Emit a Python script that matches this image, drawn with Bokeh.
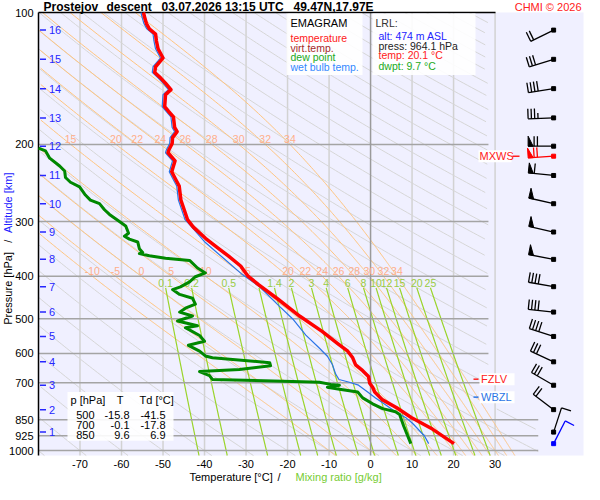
import numpy as np
from bokeh.plotting import figure
from bokeh.models import Range1d
from bokeh.embed import file_html
from bokeh.resources import INLINE
from bokeh.core.properties import value

FONT = "Liberation Sans"

# ---------------- data ----------------
station = "Prostejov"
kind = "descent"
date_str = "03.07.2026 13:15 UTC"
location = "49.47N,17.97E"
credit = "CHMI \u00a9 2026"

temp_p = [100, 102, 106, 109, 112, 116, 121, 127, 129, 133, 137, 141, 145, 150, 154, 164, 168, 173, 183, 187,
          193, 199, 206, 209, 218, 231, 239, 249, 268, 282, 297, 309, 328, 344, 360, 379, 399, 418, 452, 493,
          535, 569, 593, 614, 637, 657, 677, 702, 717, 735, 766, 798, 840, 893, 964.1]
temp_T = [-54.7, -54.5, -54.0, -53.3, -51.8, -51.6, -51.2, -50.0, -50.6, -51.8, -52.0, -50.6, -49.4, -48.1, -49.4,
          -49.6, -48.7, -47.5, -47.2, -46.6, -47.7, -47.8, -48.6, -48.8, -47.1, -47.9, -47.1, -46.1, -45.7, -44.9,
          -44.1, -42.7, -39.7, -36.9, -34.2, -31.3, -29.6, -27.0, -22.2, -17.1, -11.6, -8.0, -5.5, -4.3, -3.6,
          -1.9, -0.5, -0.2, 0.5, 1.0, 2.9, 6.3, 9.8, 14.9, 20.1]

wb_p = [100, 102, 106, 109, 112, 116, 121, 127, 129, 133, 137, 141, 145, 150, 154, 164, 168, 173, 183, 187,
        193, 199, 206, 209, 218, 231, 239, 249, 268, 282, 297,
        310, 335, 362, 397, 422, 468, 500, 545, 584, 609, 636, 669, 688, 698, 709, 735, 758, 778, 815, 844,
        866, 926, 964.1]
wb_T = [-55.3, -55.1, -54.6, -53.9, -52.4, -52.2, -51.8, -50.6, -51.2, -52.4, -52.6, -51.2, -50.0, -48.7, -50.0,
        -50.2, -49.3, -48.1, -47.8, -47.2, -48.3, -48.4, -49.2, -49.4, -47.7, -48.5, -47.7, -46.7, -46.3, -45.5,
        -44.7,
        -42.9, -39.8, -35.7, -30.8, -26.8, -22.0, -18.8, -15.6, -12.3, -10.4, -9.2, -8.4, -7.6, -5.1, -2.9,
        -0.7, 1.2, 2.9, 6.0, 8.7, 10.1, 13.0, 14.0]

dew_p = [204, 207, 215, 224, 230, 238, 244, 250, 261, 268, 273, 282, 289, 300, 307, 319, 324, 329, 334, 346,
         353, 355, 359, 364, 368, 383, 393, 401, 412, 423, 429, 440, 449, 463, 473, 483, 493, 506, 519, 524,
         546, 563, 575, 593, 608, 614, 630, 640, 653, 660, 674, 688, 695, 698, 706, 709, 717, 724, 735, 758,
         782, 802, 815, 827, 880, 964.1]
dew_T = [-80.0, -78.3, -77.3, -74.9, -73.7, -73.5, -72.3, -70.1, -68.7, -67.5, -65.3, -64.1, -62.9, -60.5, -59.0,
         -58.3, -59.3, -58.1, -56.1, -55.7, -54.9, -55.7, -53.3, -49.4, -43.6, -41.7, -39.8, -42.2, -43.6, -45.8,
         -47.7, -46.0, -42.9, -42.2, -44.6, -46.0, -42.9, -46.5, -41.7, -44.6, -41.2, -40.0, -43.9, -41.2, -39.8,
         -38.1, -24.3, -24.1, -31.6, -41.2, -38.8, -38.1, -18.8, -12.3, -9.6, -7.5, -10.4, -7.5, -3.1, -1.9,
         0.5, 2.9, 6.0, 7.0, 8.0, 9.7]

alt_km = [1, 2, 3, 4, 5, 6, 7, 8, 9, 10, 11, 12, 13, 14, 15, 16]
alt_p = [907.2, 806.3, 709.2, 627.1, 548.8, 482.8, 422.5, 366.0, 317.0, 273.2, 235.5, 201.9, 174.0, 149.2, 127.9, 109.7]
wind_dir = [18, 307, 300, 295, 288, 276, 280, 281, 283, 283, 276, 270, 268, 261, 253, 244]
wind_kt = [10, 20, 30, 30, 40, 40, 40, 50, 50, 50, 60, 70, 35, 40, 30, 20]

mxws_p, mxws_dir, mxws_kt = 212.8, 266, 70
sfc_p, sfc_dir, sfc_kt = 964.1, 27, 10
fzlv_p = 687
wbzl_p = 755

lrl_alt, lrl_press, lrl_temp, lrl_dwpt = 474, 964.1, 20.1, 9.7
tbl_p = [500, 700, 850]
tbl_T = [-15.8, -0.1, 9.6]
tbl_Td = [-41.5, -17.8, 6.9]

x_ticks = [-70, -60, -50, -40, -30, -20, -10, 0, 10, 20, 30]
p_ticks = [100, 200, 300, 400, 500, 600, 700, 850, 925, 1000]
isobars = [200, 300, 400, 500, 600, 700, 850, 925, 1000]
isotherms = [-70, -60, -50, -40, -30, -20, -10, 10, 20, 30]
theta_c = list(range(-80, 320, 10))
theta_w = [-10, -5, 0, 5, 10, 15, 20, 22, 24, 26, 28, 30, 32, 34]
mix_w = [0.1, 0.2, 0.5, 1, 1.4, 2, 3, 4, 6, 8, 10, 12, 15, 20, 25]
mix_lbl_w = [0.1, 0.2, 0.5, 1.4, 2, 3, 4, 6, 8, 10, 12, 15, 20, 25]

# ---------------- geometry ----------------
X0, X1 = -80.0, 51.3          # plot area (deg C)
P_TOP, P_BOT = 100.0, 1026.0  # plot area (hPa)
W, H = 584, 484
AL, AT, AW, AH = 38, 12, 545, 443   # plot area inside canvas (px)
LNR = np.log(P_BOT / P_TOP)
T_LIM_UP, T_LIM_LOW, P_LIM = 28.4, 40.4, 800.0


def d2x(T):
    return AL + (np.asarray(T, float) - X0) / (X1 - X0) * AW


def d2y(pp):
    return AT + np.log(np.asarray(pp, float) / P_TOP) / LNR * AH


def x2d(fx):
    return X0 + (np.asarray(fx, float) - AL) / AW * (X1 - X0)


def y2d(fy):
    return P_TOP * np.exp((np.asarray(fy, float) - AT) / AH * LNR)


def rx(xref):
    return xref - 8.0


def ry(yref):
    return AT + (yref - 16.0) * AH / 454.0


def clipT(T, pp):
    T = np.array(T, float)
    pp = np.asarray(pp, float)
    bad = ((pp < P_LIM) & (T > T_LIM_UP)) | ((pp >= P_LIM) & (T > T_LIM_LOW)) | (T < X0) \
        | (pp < P_TOP - 1e-6) | (pp > P_BOT + 1e-6)
    T[bad] = np.nan
    return T


p = figure(width=W, height=H,
           x_range=Range1d(float(x2d(0)), float(x2d(W))),
           y_range=Range1d(float(y2d(H)), float(y2d(0))),
           y_axis_type="log", output_backend="svg", toolbar_location=None,
           min_border_left=0, min_border_right=0, min_border_top=0, min_border_bottom=0,
           background_fill_color="white", border_fill_color="white", outline_line_color=None)
p.xgrid.visible = False
p.ygrid.visible = False
p.axis.visible = False


def txt(fx, fy, text, color="black", size="11px", align="left", baseline="middle", bold=False, angle=0):
    p.text(x=[float(x2d(fx))], y=[float(y2d(fy))], text=[text], text_font=value(FONT), text_font_size=size,
           text_color=color, text_align=align, text_baseline=baseline,
           text_font_style=value("bold" if bold else "normal"), angle=angle, angle_units="deg")


# plot-area background
p.quad(left=[X0], right=[X1], top=[P_TOP], bottom=[P_BOT], fill_color="#f0f0ff", line_color=None)

# ---------------- background grid ----------------
p.segment(x0=isotherms, x1=isotherms, y0=[P_BOT] * len(isotherms), y1=[P_TOP] * len(isotherms),
          line_color="#d2d2d2", line_width=1.5)

pg = np.geomspace(P_TOP, P_BOT, 220)
dry_xs, dry_ys = [], []
for th in theta_c:
    T = (th + 273.15) * (pg / 1000.0) ** 0.2857 - 273.15
    dry_xs.append(clipT(T, pg))
    dry_ys.append(pg)
p.multi_line(xs=dry_xs, ys=dry_ys, line_color="#d6d6d6", line_width=1)


def sat_vp(Tc):
    return 6.112 * np.exp(17.67 * Tc / (Tc + 243.5))


def dTdp(pp, T):
    Tc = T - 273.15
    es = sat_vp(Tc)
    r = 0.622 * es / (pp - es)
    return (287.04 * T + 2.501e6 * r) / (1005.7 + 2.501e6 ** 2 * r * 0.622 / (287.04 * T * T)) / pp


def integrate(T0, p_end, h):
    ps, Ts = [1000.0], [T0]
    pc, Tc = 1000.0, T0
    while (h < 0 and pc + h >= p_end - 1e-9) or (h > 0 and pc + h <= p_end + 1e-9):
        k1 = dTdp(pc, Tc)
        k2 = dTdp(pc + h / 2, Tc + h / 2 * k1)
        k3 = dTdp(pc + h / 2, Tc + h / 2 * k2)
        k4 = dTdp(pc + h, Tc + h * k3)
        Tc = Tc + h / 6 * (k1 + 2 * k2 + 2 * k3 + k4)
        pc = pc + h
        ps.append(pc)
        Ts.append(Tc)
    return np.array(ps), np.array(Ts)


moist_xs, moist_ys = [], []
ml_up_x, ml_up_y, ml_up_t, ml_lo_x, ml_lo_y, ml_lo_t = [], [], [], [], [], []
for tw in theta_w:
    pu, Tu = integrate(tw + 273.15, 100.0, -2.0)
    pd, Td_ = integrate(tw + 273.15, 1026.0, 2.0)
    pp = np.concatenate([pu[::-1], pd[1:]])
    TT = np.concatenate([Tu[::-1], Td_[1:]]) - 273.15
    moist_xs.append(clipT(TT, pp))
    moist_ys.append(pp)
    t400 = float(np.interp(400.0, pp, TT))
    t200 = float(np.interp(200.0, pp, TT))
    ml_lo_x.append(t400); ml_lo_y.append(398.0); ml_lo_t.append(f"{tw:g}")
    if t200 > X0 + 3:
        ml_up_x.append(t200); ml_up_y.append(199.0); ml_up_t.append(f"{tw:g}")
p.multi_line(xs=moist_xs, ys=moist_ys, line_color="#ffc47e", line_width=1)

pm = np.geomspace(425.0, P_BOT, 120)


def mix_T(w, pp):
    e = w * pp / (622.0 + w)
    lg = np.log(e / 6.112)
    return 243.5 * lg / (17.67 - lg)


mix_xs, mix_ys = [], []
for w in mix_w:
    mix_xs.append(clipT(mix_T(w, pm), pm))
    mix_ys.append(pm)
p.multi_line(xs=mix_xs, ys=mix_ys, line_color="#9ad42a", line_width=1.2)

# isobars
iso_end = [T_LIM_UP if pb < P_LIM else T_LIM_LOW for pb in isobars]
p.segment(x0=[X0] * len(isobars), x1=iso_end, y0=isobars, y1=isobars, line_color="#a4a4a4", line_width=1.5)
# 0 degC isotherm
p.segment(x0=[0], x1=[0], y0=[P_BOT], y1=[P_TOP], line_color="#9a9a9a", line_width=1.5)
# frame lines: top (partial) and left axis
p.segment(x0=[X0], x1=[float(x2d(rx(503)))], y0=[P_TOP], y1=[P_TOP], line_color="black", line_width=1.5)
p.segment(x0=[X0], x1=[X0], y0=[P_TOP], y1=[P_BOT], line_color="black", line_width=1.5)

# axis tick labels (placed through the scales at the tick values)
p.text(x=x_ticks, y=[float(y2d(AT + AH + 8))] * len(x_ticks), text=[str(t) for t in x_ticks],
       text_font=value(FONT), text_font_size="11px", text_color="black", text_align="center",
       text_baseline="middle")
p.text(x=[float(x2d(AL - 5))] * len(p_ticks), y=p_ticks, text=[str(t) for t in p_ticks],
       text_font=value(FONT), text_font_size="11px", text_color="black", text_align="right",
       text_baseline="middle")

# labels of moist adiabats and mixing ratio lines
p.text(x=ml_lo_x, y=ml_lo_y, text=ml_lo_t, text_font=value(FONT), text_font_size="10.5px",
       text_color="#ffae8a", text_align="center", text_baseline="bottom")
p.text(x=ml_up_x, y=ml_up_y, text=ml_up_t, text_font=value(FONT), text_font_size="10.5px",
       text_color="#ffae8a", text_align="center", text_baseline="bottom")
p.text(x=[float(mix_T(w, 425.0)) for w in mix_lbl_w], y=[424.0] * len(mix_lbl_w),
       text=[f"{w:g}" for w in mix_lbl_w], text_font=value(FONT), text_font_size="10.5px",
       text_color="#99cc44", text_align="center", text_baseline="bottom")

# altitude markers
ALT_C = "#2626ff"
p.segment(x0=[float(x2d(rx(47.5)))] * len(alt_p), x1=[float(x2d(rx(53.5)))] * len(alt_p),
          y0=alt_p, y1=alt_p, line_color=ALT_C, line_width=1.5)
p.text(x=[float(x2d(rx(56.5)))] * len(alt_p), y=alt_p, text=[str(k) for k in alt_km],
       text_font=value(FONT), text_font_size="11px", text_color=ALT_C, text_align="left",
       text_baseline="middle")


# ---------------- boxes ----------------
def box(xl, xr, yt, yb, alpha=0.9):
    p.quad(left=[float(x2d(rx(xl)))], right=[float(x2d(rx(xr)))],
           top=[float(y2d(ry(yt)))], bottom=[float(y2d(ry(yb)))],
           fill_color="white", fill_alpha=alpha, line_color=None)


box(294, 370, 17, 80)
box(380, 483, 17, 80)
box(75, 181, 405, 455)

# ---------------- profiles ----------------
p.line(x=wb_T, y=wb_p, line_color="#2a74e6", line_width=1.2)
p.line(x=dew_T, y=dew_p, line_color="#008800", line_width=3, line_join="round")
p.line(x=temp_T, y=temp_p, line_color="#ff0000", line_width=3.5, line_join="round")

# ---------------- wind barbs ----------------
BARB_T = 44.1


def barb(p0, ddeg, spd):
    x0 = float(d2x(BARB_T)); y0 = float(d2y(p0))
    a = np.deg2rad(ddeg)
    ux, uy = np.sin(a), -np.cos(a)
    bx, by = -uy, ux
    L, LB, SP, PW = 25.5, 10.0, 3.3, 5.0
    tx, ty = x0 + L * ux, y0 + L * uy
    segs = [(x0, y0, tx, ty)]
    polys = []
    s = int(round(spd / 5.0)) * 5
    n50, rem = divmod(s, 50)
    n10, rem = divmod(rem, 10)
    pos = 0.0
    for _ in range(n50):
        ax, ay = tx - pos * ux, ty - pos * uy
        polys.append(([ax, ax + LB * bx, ax - PW * ux], [ay, ay + LB * by, ay - PW * uy]))
        pos += PW + 1.0
    for _ in range(n10):
        ax, ay = tx - pos * ux, ty - pos * uy
        segs.append((ax, ay, ax + LB * bx, ay + LB * by))
        pos += SP
    if rem >= 5:
        if pos == 0:
            pos = SP
        ax, ay = tx - pos * ux, ty - pos * uy
        segs.append((ax, ay, ax + 0.55 * LB * bx, ay + 0.55 * LB * by))
    return segs, polys


def draw_barbs(plist, dlist, slist, color):
    S, P = [], []
    for pp, dd, ss in zip(plist, dlist, slist):
        s_, p_ = barb(pp, dd, ss)
        S += s_
        P += p_
    S = np.array(S)
    p.segment(x0=x2d(S[:, 0]), y0=y2d(S[:, 1]), x1=x2d(S[:, 2]), y1=y2d(S[:, 3]),
              line_color=color, line_width=1.3)
    if P:
        p.patches(xs=[x2d(np.array(q[0])) for q in P], ys=[y2d(np.array(q[1])) for q in P],
                  fill_color=color, line_color=color, line_width=1)
    p.scatter(x=[BARB_T] * len(plist), y=plist, marker="square", size=4, fill_color=color, line_color=color)


draw_barbs(alt_p, wind_dir, wind_kt, "black")
draw_barbs([mxws_p], [mxws_dir], [mxws_kt], "#ff0000")
draw_barbs([sfc_p], [sfc_dir], [sfc_kt], "#0000ff")


# ---------------- level labels ----------------
def level_label(pp, text, color, box_l, box_r, text_x, tick_l, tick_r):
    fy = float(d2y(pp))
    p.quad(left=[float(x2d(rx(box_l)))], right=[float(x2d(rx(box_r)))],
           top=[float(y2d(fy - 6))], bottom=[float(y2d(fy + 6))], fill_color="white", line_color=None)
    p.segment(x0=[float(x2d(rx(tick_l)))], x1=[float(x2d(rx(tick_r)))], y0=[pp], y1=[pp],
              line_color=color, line_width=1.5)
    p.text(x=[float(x2d(rx(text_x)))], y=[pp], text=[text], text_font=value(FONT), text_font_size="11px",
           text_color=color, text_align="left", text_baseline="middle")


level_label(mxws_p, "MXWS", "#ff2020", 486, 519, 487, 520, 527)
level_label(fzlv_p, "FZLV", "#ff2020", 487, 522, 488.5, 481, 486)
level_label(wbzl_p, "WBZL", "#2a74e6", 487, 522, 488.5, 481, 486)

# ---------------- texts ----------------
# title
txt(rx(51), 6, station, size="12px", bold=True)
txt(rx(114), 6, kind, size="12px", bold=True)
txt(rx(169), 6, date_str, size="12px", bold=True)
txt(rx(301), 6, location, size="12px", bold=True)
txt(W - 3, 6, credit, color="#ff2020", size="11px", align="right")

# legend
txt(rx(298), ry(26.5), "EMAGRAM", size="11px")
txt(rx(298), ry(42.3), "temperature", color="#ff2020", size="10.5px")
txt(rx(298), ry(52.3), "virt.temp.", color="#a52a2a", size="10.5px")
txt(rx(298), ry(62), "dew point", color="#22aa22", size="10.5px")
txt(rx(298), ry(72), "wet bulb temp.", color="#3388ff", size="10.5px")

# LRL
txt(rx(383), ry(27), "LRL:", color="#333333", size="10.5px")
txt(rx(386), ry(40), f"alt: {lrl_alt} m ASL", color="#2222ff", size="10.5px")
txt(rx(386), ry(50), f"press: {lrl_press:.1f} hPa", color="#222222", size="10.5px")
txt(rx(386), ry(60), f"temp: {lrl_temp:.1f} \u00b0C", color="#ff2020", size="10.5px")
txt(rx(386), ry(70.5), f"dwpt: {lrl_dwpt:.1f} \u00b0C", color="#22aa22", size="10.5px")

# table
txt(rx(78), ry(413), "p [hPa]", size="11px")
txt(rx(127.5), ry(413), "T", size="11px", align="center")
txt(rx(147), ry(413), "Td [\u00b0C]", size="11px")
for i in range(len(tbl_p)):
    yy = ry(428 + 10.7 * i)
    txt(rx(102), yy, f"{tbl_p[i]}", size="11px", align="right")
    txt(rx(137), yy, f"{tbl_T[i]:.1f}", size="11px", align="right")
    txt(rx(173), yy, f"{tbl_Td[i]:.1f}", size="11px", align="right")

# axis titles
txt(rx(197), 476, "Temperature [\u00b0C]", size="11px")
txt(rx(285), 476, "/", size="11px")
txt(rx(303), 476, "Mixing ratio [g/kg]", color="#77cc33", size="11px")

txt(7, ry(336), "Pressure [hPa]", size="11px", angle=90)
txt(7, ry(252), "/", size="11px", angle=90)
txt(7, ry(242), "Altitude [km]", color="#2222ff", size="11px", angle=90)

open("out.html", "w").write(file_html(p, INLINE))
